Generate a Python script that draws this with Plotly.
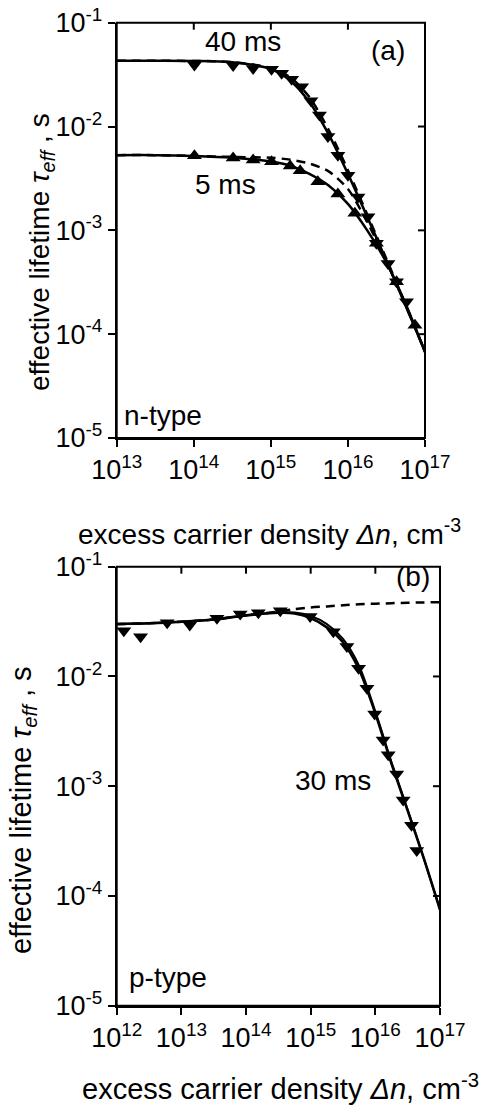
import math
import plotly.graph_objects as go

# ---------------- Panel (a): n-type ----------------
a_down_x = [1.02e14, 3.24e14, 5.89e14, 1.02e15, 1.38e15, 1.86e15, 2.51e15, 3.31e15, 4.27e15,
            5.5e15, 7.41e15, 1.0e16, 1.35e16, 1.82e16, 2.34e16, 3.31e16, 4.27e16, 5.75e16]
a_down_y = [0.0391, 0.0387, 0.0363, 0.0356, 0.0326, 0.0285, 0.0242, 0.0177, 0.0129,
            0.0080, 0.0053, 0.0034, 0.0021, 0.00135, 7.5e-4, 4.8e-4, 3.2e-4, 2.05e-4]

a_up_x = [1.02e14, 3.24e14, 5.89e14, 1.02e15, 1.78e15, 2.4e15, 4.07e15, 7.41e15, 1.23e16,
          2.34e16, 4.27e16, 7.41e16]
a_up_y = [0.00524, 0.00497, 0.00477, 0.00458, 0.00416, 0.00375, 0.00294, 0.00224, 0.00146,
          7.5e-4, 3.2e-4, 1.22e-4]

a_fit_x = [1e13, 3.16e13, 1e14, 3.16e14, 1e15, 1.78e15, 3.16e15, 5.62e15, 1e16, 1.78e16,
           3.16e16, 5.62e16, 1e17]
a_40_solid = [0.043, 0.043, 0.0428, 0.0415, 0.0358, 0.0278, 0.0172, 0.0084, 0.0035, 0.00135,
              5.1e-4, 1.87e-4, 6.8e-5]
a_40_dash = [0.043, 0.043, 0.0428, 0.0418, 0.0366, 0.0298, 0.0192, 0.0093, 0.0038, 0.00142,
             5.3e-4, 1.9e-4, 6.8e-5]
a_5_solid = [0.0053, 0.0053, 0.0052, 0.0050, 0.0046, 0.0042, 0.0035, 0.0027, 0.0018, 0.001,
             4.9e-4, 1.95e-4, 6.7e-5]
a_5_dash = [0.0053, 0.0053, 0.0052, 0.0051, 0.0050, 0.0048, 0.0044, 0.0037, 0.0025, 0.0012,
            5.0e-4, 1.9e-4, 6.8e-5]

# ---------------- Panel (b): p-type ----------------
b_down_x = [1.29e12, 2.34e12, 6.03e12, 1.35e13, 3.55e13, 8.13e13, 1.55e14, 3.39e14, 9.8e14,
            2.24e15, 3.63e15, 5.5e15, 7.41e15, 9.77e15, 1.32e16, 1.58e16, 2.14e16, 2.69e16,
            3.63e16, 4.37e16]
b_down_y = [0.0261, 0.0230, 0.0309, 0.0294, 0.0339, 0.0371, 0.0381, 0.0397, 0.0351,
            0.0256, 0.0187, 0.0119, 0.0078, 0.00455, 0.00264, 0.00193, 0.00129, 7.5e-4,
            4.4e-4, 2.6e-4]

b_fit_x = [1e12, 3.16e12, 1e13, 3.16e13, 1e14, 3.16e14, 5.62e14, 1e15, 1.78e15, 3.16e15,
           5.62e15, 1e16, 1.78e16, 3.16e16, 5.62e16, 1e17]
b_solid1 = [0.030, 0.0305, 0.0315, 0.033, 0.036, 0.038, 0.0375, 0.034, 0.028, 0.0205,
            0.0115, 0.0046, 0.0016, 6.0e-4, 2.2e-4, 7.5e-5]
b_solid2 = [0.030, 0.0305, 0.0315, 0.033, 0.036, 0.0382, 0.0382, 0.0355, 0.030, 0.022,
            0.0125, 0.0048, 0.00165, 6.1e-4, 2.2e-4, 7.5e-5]
b_dash = [0.030, 0.0305, 0.0315, 0.033, 0.036, 0.039, 0.041, 0.0425, 0.0435, 0.0445,
          0.0455, 0.046, 0.0465, 0.047, 0.0472, 0.0475]

a_xticks = [1e13, 1e14, 1e15, 1e16, 1e17]
a_xtext = ["10<sup>13</sup>", "10<sup>14</sup>", "10<sup>15</sup>", "10<sup>16</sup>", "10<sup>17</sup>"]
b_xticks = [1e12, 1e13, 1e14, 1e15, 1e16, 1e17]
b_xtext = ["10<sup>12</sup>"] + a_xtext
yticks = [1e-5, 1e-4, 1e-3, 1e-2, 1e-1]
ytext = ["10<sup>-5</sup>", "10<sup>-4</sup>", "10<sup>-3</sup>", "10<sup>-2</sup>", "10<sup>-1</sup>"]

FONT = "Arial, Liberation Sans, sans-serif"
W, H = 489, 1111

fig = go.Figure()

def line(x, y, xa, ya, dash="solid", width=2.5):
    fig.add_trace(go.Scatter(x=x, y=y, xaxis=xa, yaxis=ya, mode="lines",
                             line=dict(color="black", width=width, dash=dash, shape="spline", smoothing=0.8),
                             showlegend=False, hoverinfo="skip"))

def marks(x, y, xa, ya, sym):
    fig.add_trace(go.Scatter(x=x, y=y, xaxis=xa, yaxis=ya, mode="markers",
                             marker=dict(symbol=sym, size=13, color="black", line=dict(width=0)),
                             showlegend=False, hoverinfo="skip"))

DASH = "9px,6px"

# panel a
line(a_fit_x, a_5_dash, "x", "y", dash=DASH)
line(a_fit_x, a_40_dash, "x", "y", dash=DASH)
line(a_fit_x, a_5_solid, "x", "y")
line(a_fit_x, a_40_solid, "x", "y")
marks(a_down_x, a_down_y, "x", "y", "triangle-down")
marks(a_up_x, a_up_y, "x", "y", "triangle-up")

# panel b
line(b_fit_x, b_dash, "x2", "y2", dash=DASH)
line(b_fit_x, b_solid2, "x2", "y2", width=2)
line(b_fit_x, b_solid1, "x2", "y2", width=2.6)
marks(b_down_x, b_down_y, "x2", "y2", "triangle-down")

def px(x):
    return x / W

def py(y):
    return 1 - y / H

TICKLEN = 7
axcommon = dict(type="log", showgrid=False, zeroline=False, ticklen=TICKLEN, tickwidth=2, automargin=False,
                ticklabeloverflow="allow", ticks="outside", showline=True, linewidth=2, linecolor="black",
                tickcolor="black", tickfont=dict(family=FONT, size=27, color="black"))

A_BOX = (116.7, 425, 22.7, 438)      # left, right, top, bottom in px
B_BOX = (116.7, 440, 566.7, 1005.7)
A_XR, B_XR, YR = [13, 17], [12, 17], [-5, -1]

fig.update_layout(
    template="none",
    width=W, height=H, margin=dict(l=0, r=0, t=0, b=0, pad=0),
    paper_bgcolor="white", plot_bgcolor="white", showlegend=False,
    font=dict(family=FONT, color="black"),
    xaxis=dict(axcommon, domain=[px(A_BOX[0]), px(A_BOX[1])], anchor="y", range=A_XR,
               tickvals=a_xticks, ticktext=a_xtext),
    yaxis=dict(axcommon, domain=[py(A_BOX[3]), py(A_BOX[2])], anchor="x", range=YR,
               tickvals=yticks, ticktext=ytext),
    xaxis2=dict(axcommon, domain=[px(B_BOX[0]), px(B_BOX[1])], anchor="y2", range=B_XR,
                tickvals=b_xticks, ticktext=b_xtext),
    yaxis2=dict(axcommon, domain=[py(B_BOX[3]), py(B_BOX[2])], anchor="x2", range=YR,
                tickvals=yticks, ticktext=ytext),
)

# frame (top/right borders) and inward ticks on the top and right sides
def frame(xa, ya, box, xr, xt, yt):
    xd, yd = xa + " domain", ya + " domain"
    fig.add_shape(type="rect", xref=xd, yref=yd, x0=0, x1=1, y0=0, y1=1,
                  line=dict(color="black", width=2), layer="above")
    wpx, hpx = box[1] - box[0], box[3] - box[2]
    for v in xt:
        f = (math.log10(v) - xr[0]) / (xr[1] - xr[0])
        if 0 < f < 1:
            fig.add_shape(type="line", xref=xd, yref=yd, x0=f, x1=f, y0=1, y1=1 - TICKLEN / hpx,
                          line=dict(color="black", width=2), layer="above")
    for v in yt:
        f = (math.log10(v) - YR[0]) / (YR[1] - YR[0])
        if 0 < f < 1:
            fig.add_shape(type="line", xref=xd, yref=yd, x0=1, x1=1 - TICKLEN / wpx, y0=f, y1=f,
                          line=dict(color="black", width=2), layer="above")

frame("x", "y", A_BOX, A_XR, a_xticks, yticks)
frame("x2", "y2", B_BOX, B_XR, b_xticks, yticks)

def ann(text, x, y, size=26, angle=0):
    fig.add_annotation(text=text, x=px(x), y=py(y), xref="paper", yref="paper", showarrow=False,
                       xanchor="center", yanchor="middle", textangle=angle,
                       font=dict(family=FONT, size=size, color="black"))

ytitle = "effective lifetime <i>τ</i><sub><i>eff</i></sub> , s"
xtitle = "excess carrier density <i>Δn</i>, cm<sup>-3</sup>"

ann(ytitle, 41, 252, size=28, angle=-90)
ann(ytitle, 23, 810, size=29, angle=-90)
ann(xtitle, 269, 532, size=28)
ann(xtitle, 280, 1087, size=29)

ann("40 ms", 243, 42, size=28)
ann("(a)", 388, 50, size=28)
ann("5 ms", 225, 185, size=28)
ann("n-type", 163, 415, size=28)
ann("(b)", 413, 577, size=28)
ann("30 ms", 333, 780, size=28)
ann("p-type", 168, 977, size=28)

fig.write_html("out.html", config={"displayModeBar": False},
               post_script="document.body.style.margin='0';document.body.style.padding='0';")
